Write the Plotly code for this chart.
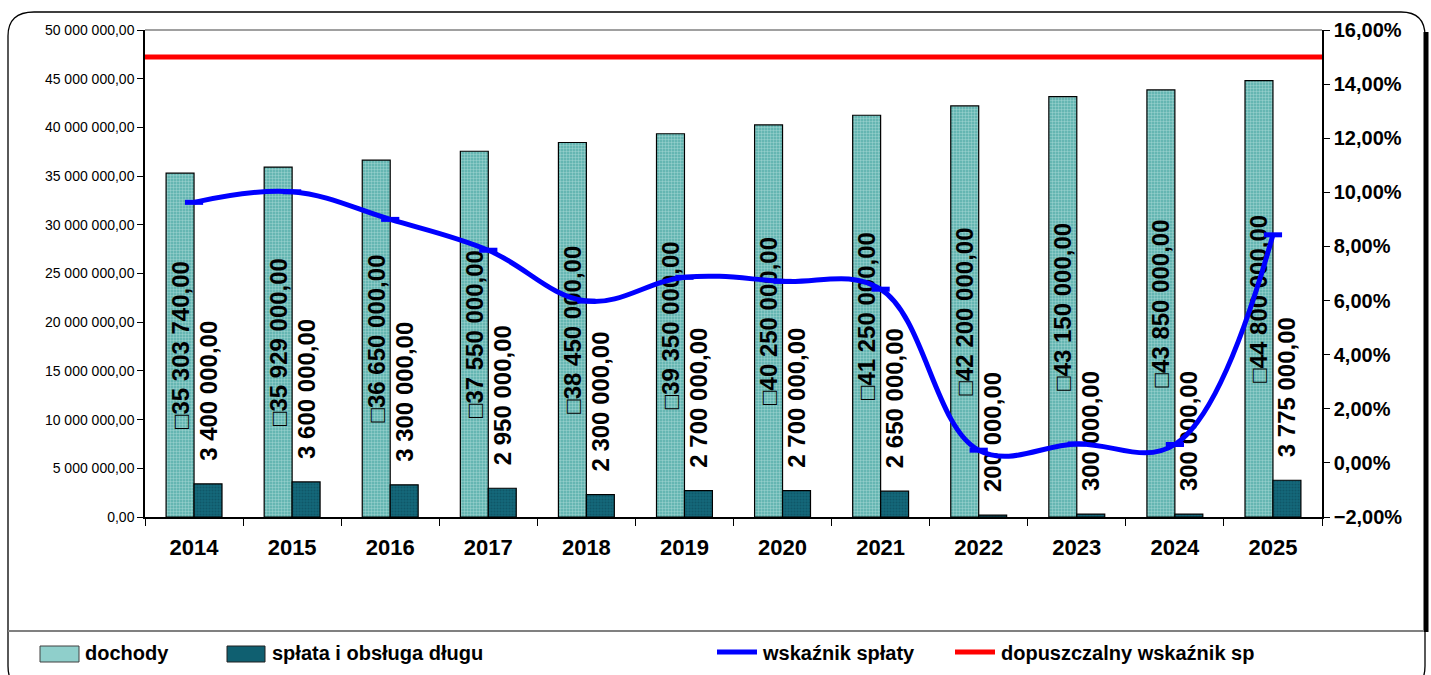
import plotly.graph_objects as go

# dane z wykresu
years = ["2014", "2015", "2016", "2017", "2018", "2019",
         "2020", "2021", "2022", "2023", "2024", "2025"]
dochody = [35303740.00, 35929000.00, 36650000.00, 37550000.00, 38450000.00, 39350000.00,
           40250000.00, 41250000.00, 42200000.00, 43150000.00, 43850000.00, 44800000.00]
splata = [3400000.00, 3600000.00, 3300000.00, 2950000.00, 2300000.00, 2700000.00,
          2700000.00, 2650000.00, 200000.00, 300000.00, 300000.00, 3775000.00]
wskaznik = [9.63, 10.02, 9.00, 7.86, 5.98, 6.86, 6.71, 6.42, 0.47, 0.70, 0.68, 8.43]
dopuszczalny = [15.0] * 12

FONT = "Liberation Sans, Arial, sans-serif"

# obszar wykresu w pikselach
PL, PR, PT, PB = 145, 1322, 30, 517


def xp(px):
    return (px - PL) / (PR - PL)


def yp(py):
    return (PB - py) / (PB - PT)


def pl_num(v):
    return f"{v:,.2f}".replace(",", " ").replace(".", ",")


fig = go.Figure()

fig.add_trace(go.Bar(
    x=years, y=dochody, name="dochody",
    marker=dict(color="#6fc0bb", line=dict(color="black", width=1.2),
                pattern=dict(shape=".", bgcolor="#55aea9", fgcolor="#d2eeec", size=3, solidity=0.5)),
    text=["<b>□" + pl_num(v) + "</b>" for v in dochody],
    textposition="inside", insidetextanchor="middle", textangle=-90,
    insidetextfont=dict(family=FONT, size=24, color="black"),
    constraintext="none", showlegend=False,
))

fig.add_trace(go.Bar(
    x=years, y=splata, name="spłata i obsługa długu",
    marker=dict(color="#0f5f70", line=dict(color="black", width=1.2),
                pattern=dict(shape=".", bgcolor="#14687a", fgcolor="#0a4655", size=3, solidity=0.4)),
    text=["<b>\u00a0\u00a0\u00a0" + pl_num(v) + "</b>" for v in splata],
    textposition="outside", textangle=-90,
    outsidetextfont=dict(family=FONT, size=24, color="black"),
    constraintext="none", cliponaxis=False, showlegend=False,
))

fig.add_trace(go.Scatter(
    x=years, y=wskaznik, name="wskaźnik spłaty", yaxis="y2",
    mode="lines+markers",
    line=dict(color="#0000ff", width=5, shape="spline", smoothing=1.1),
    marker=dict(symbol="line-ew", size=13, line=dict(color="#0000ff", width=5)),
    showlegend=False,
))

fig.add_trace(go.Scatter(
    x=list(range(len(years))), y=dopuszczalny, name="dopuszczalny wskaźnik spłaty",
    xaxis="x2", yaxis="y2", mode="lines",
    line=dict(color="#ff0000", width=5),
    showlegend=False,
))

shapes = [
    # ramka z zaokrąglonymi rogami
    dict(type="path", xref="paper", yref="paper",
         path=(f"M {xp(34)},{yp(12)} L {xp(1401)},{yp(12)} Q {xp(1425)},{yp(12)} {xp(1425)},{yp(36)} "
               f"L {xp(1425)},{yp(666)} Q {xp(1425)},{yp(690)} {xp(1401)},{yp(690)} "
               f"L {xp(32)},{yp(690)} Q {xp(8)},{yp(690)} {xp(8)},{yp(666)} "
               f"L {xp(8)},{yp(36)} Q {xp(8)},{yp(12)} {xp(34)},{yp(12)} Z"),
         line=dict(color="black", width=1.3)),
    # cień po prawej
    dict(type="line", xref="paper", yref="paper", x0=xp(1426), x1=xp(1426), y0=yp(32), y1=yp(632),
         line=dict(color="black", width=5)),
    # linia nad legendą
    dict(type="line", xref="paper", yref="paper", x0=xp(8), x1=xp(1424), y0=yp(631), y1=yp(631),
         line=dict(color="#808080", width=2)),
    # górna krawędź obszaru wykresu
    dict(type="line", xref="paper", yref="paper", x0=0, x1=1, y0=1, y1=1,
         line=dict(color="#808080", width=1.5)),
    # legenda
    dict(type="rect", xref="paper", yref="paper", x0=xp(40), x1=xp(79), y0=yp(646), y1=yp(662),
         fillcolor="#8fcfcb", line=dict(color="#404040", width=1)),
    dict(type="rect", xref="paper", yref="paper", x0=xp(227), x1=xp(265), y0=yp(646), y1=yp(662),
         fillcolor="#0f5f70", line=dict(color="#202020", width=1)),
    dict(type="line", xref="paper", yref="paper", x0=xp(717), x1=xp(757), y0=yp(652), y1=yp(652),
         line=dict(color="#0000ff", width=5)),
    dict(type="line", xref="paper", yref="paper", x0=xp(955), x1=xp(995), y0=yp(652), y1=yp(652),
         line=dict(color="#ff0000", width=5)),
]

legend_items = [(83, "dochody"), (270, "spłata i obsługa długu"),
                (760, "wskaźnik spłaty"), (999, "dopuszczalny wskaźnik sp")]
annotations = [
    dict(xref="paper", yref="paper", x=xp(px), y=yp(653), xanchor="left", yanchor="middle",
         text=f"<b>{txt}</b>", showarrow=False, font=dict(family=FONT, size=20, color="black"))
    for px, txt in legend_items
]

fig.update_layout(
    width=1431, height=675,
    margin=dict(l=PL, r=1431 - PR, t=PT, b=675 - PB),
    paper_bgcolor="white", plot_bgcolor="white",
    separators=", ",
    barmode="group", bargap=0.43, bargroupgap=0,
    font=dict(family=FONT, color="black"),
    xaxis=dict(
        type="category", range=[-0.5, len(years) - 0.5],
        showgrid=False, showline=True, linecolor="black", linewidth=1.5,
        ticks="outside", tickson="boundaries", ticklen=7, tickcolor="black",
        ticklabelstandoff=10,
        tickfont=dict(family=FONT, size=22, color="black"),
        tickprefix="<b>", ticksuffix="</b>",
    ),
    xaxis2=dict(overlaying="x", range=[0, len(years) - 1], visible=False),
    yaxis=dict(
        range=[0, 50000000], dtick=5000000, tickformat=",.2f",
        showgrid=False, zeroline=False, showline=True, linecolor="black", linewidth=1.5,
        ticks="outside", ticklen=6, tickcolor="black",
        tickfont=dict(family=FONT, size=14, color="black"),
    ),
    yaxis2=dict(
        overlaying="y", side="right", range=[-2, 16], dtick=2, tickformat=".2f",
        ticksuffix="%", showgrid=False, zeroline=False, showline=True,
        linecolor="black", linewidth=1.5, ticks="outside", ticklen=6, tickcolor="black",
        tickfont=dict(family=FONT, size=20, color="black"),
        tickprefix="<b>",
    ),
    shapes=shapes,
    annotations=annotations,
    showlegend=False,
)

fig.write_html("out.html", config={"displayModeBar": False},
               post_script="document.body.style.margin = '0';")
